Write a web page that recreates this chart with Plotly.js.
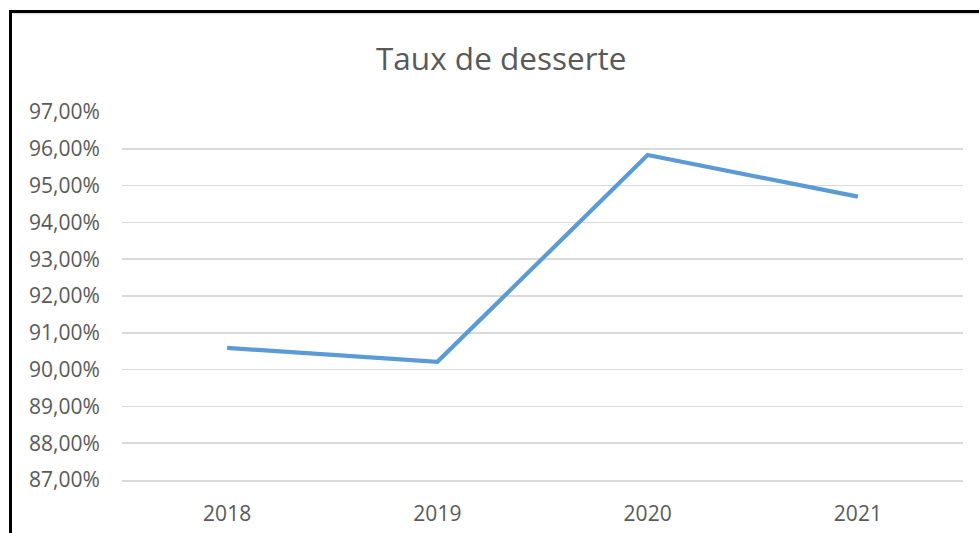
<!DOCTYPE html>
<html>
<head>
<meta charset="utf-8">
<script src="https://cdn.plot.ly/plotly-3.0.1.min.js"></script>
<style>
  html, body { margin: 0; padding: 0; background: #fff; overflow: hidden; }
  #chart { width: 979px; height: 533px; }
  #frame { position: absolute; left: 9px; top: 10px; width: 1000px; height: 600px;
           border-left: 3px solid #000; border-top: 3px solid #000;
           box-shadow: inset 0 2px 2px -1px #d8d8d8; pointer-events: none; }
</style>
</head>
<body>
<div id="chart"></div>
<div id="frame"></div>
<script>
const years = ["2018", "2019", "2020", "2021"];
const taux = [90.59, 90.21, 95.83, 94.70];
const yTicks = [87, 88, 89, 90, 91, 92, 93, 94, 95, 96, 97];
const yTickLabels = yTicks.map(v => v.toFixed(2).replace(".", ",") + "%");

const trace = {
  x: years,
  y: taux,
  type: "scatter",
  mode: "lines",
  line: { color: "#5B9BD5", width: 4.2 },
  hoverinfo: "skip"
};

const layout = {
  width: 979,
  height: 533,
  margin: { l: 122, r: 16, t: 112, b: 53 },
  paper_bgcolor: "#ffffff",
  plot_bgcolor: "#ffffff",
  showlegend: false,
  font: { family: "Open Sans, Noto Sans, sans-serif", color: "#595959" },
  title: {
    text: "Taux de desserte",
    font: { size: 31.5, color: "#595959", family: "Open Sans, Noto Sans, sans-serif" },
    x: 0.512, xanchor: "center",
    y: 0.89, yanchor: "middle"
  },
  xaxis: {
    type: "category",
    range: [-0.5, 3.5],
    showgrid: false,
    showline: true,
    linecolor: "#d9d9d9",
    linewidth: 1.5,
    ticks: "outside",
    ticklen: 14,
    tickcolor: "rgba(0,0,0,0)",
    tickfont: { size: 21, color: "#595959" },
    fixedrange: true
  },
  yaxis: {
    range: [87, 97],
    tickmode: "array",
    tickvals: yTicks,
    ticktext: yTickLabels,
    showgrid: true,
    gridcolor: "#d9d9d9",
    gridwidth: 1.5,
    zeroline: false,
    showline: false,
    ticks: "outside",
    ticklen: 17,
    tickcolor: "rgba(0,0,0,0)",
    tickfont: { size: 21, color: "#595959" },
    fixedrange: true
  }
};

Plotly.newPlot("chart", [trace], layout, { displayModeBar: false, staticPlot: true });
</script>
</body>
</html>
